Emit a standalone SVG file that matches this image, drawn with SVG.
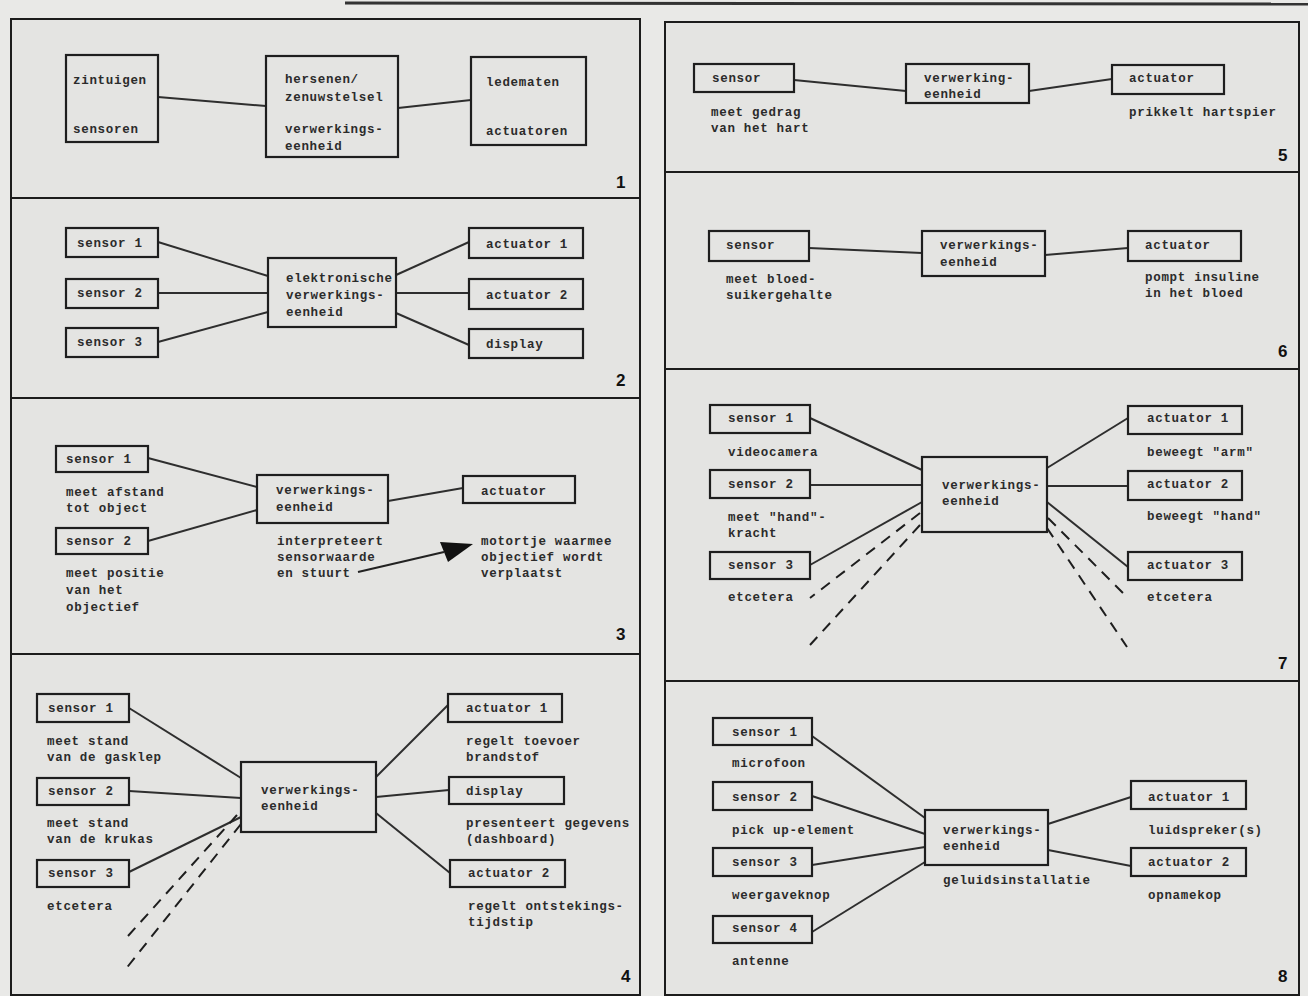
<svg xmlns="http://www.w3.org/2000/svg" width="1308" height="996" viewBox="0 0 1308 996">
<style>
.bg{fill:#e9e9e7}
.frame{fill:#e4e4e2;stroke:#1c1c1c;stroke-width:2}
.div{stroke:#1c1c1c;stroke-width:2}
.box{fill:#e4e4e2;stroke:#1e1e1e;stroke-width:2.2}
text{font-family:"Liberation Mono","DejaVu Sans Mono",monospace;font-size:12.5px;font-weight:bold;fill:#2b2b2b;letter-spacing:0.7px}
text.num{font-family:"Liberation Sans",Arial,sans-serif;font-size:17px;font-weight:bold;fill:#111;letter-spacing:0}
.c{stroke:#2e2e2e;stroke-width:2;fill:none}
.d{stroke:#1e1e1e;stroke-width:2;fill:none;stroke-dasharray:11 8}
</style>
<rect class="bg" x="0" y="0" width="1308" height="996"/>
<line x1="345" y1="3" x2="1308" y2="4" stroke="#333" stroke-width="3"/>

<g id="frames">
<rect class="frame" x="11" y="19" width="629" height="976"/>
<line class="div" x1="11" y1="198" x2="640" y2="198"/>
<line class="div" x1="11" y1="398" x2="640" y2="398"/>
<line class="div" x1="11" y1="654" x2="640" y2="654"/>
<rect class="frame" x="665" y="22" width="634" height="973"/>
<line class="div" x1="665" y1="172" x2="1299" y2="172"/>
<line class="div" x1="665" y1="369" x2="1299" y2="369"/>
<line class="div" x1="665" y1="681" x2="1299" y2="681"/>
<text class="num" x="616" y="188">1</text>
<text class="num" x="616" y="386">2</text>
<text class="num" x="616" y="640">3</text>
<text class="num" x="621" y="982">4</text>
<text class="num" x="1278" y="161">5</text>
<text class="num" x="1278" y="357">6</text>
<text class="num" x="1278" y="669">7</text>
<text class="num" x="1278" y="982">8</text>
</g>

<g id="connectors">
<!-- panel 1 -->
<line class="c" x1="158" y1="97" x2="266" y2="106"/>
<line class="c" x1="398" y1="108" x2="471" y2="100"/>
<!-- panel 2 -->
<line class="c" x1="158" y1="242" x2="268" y2="276"/>
<line class="c" x1="158" y1="293" x2="268" y2="293"/>
<line class="c" x1="158" y1="342" x2="268" y2="312"/>
<line class="c" x1="396" y1="275" x2="469" y2="242"/>
<line class="c" x1="396" y1="293" x2="469" y2="293"/>
<line class="c" x1="396" y1="313" x2="469" y2="345"/>
<!-- panel 3 -->
<line class="c" x1="148" y1="458" x2="257" y2="487"/>
<line class="c" x1="148" y1="541" x2="257" y2="510"/>
<line class="c" x1="388" y1="501" x2="463" y2="488"/>
<line x1="358" y1="572" x2="444" y2="552" stroke="#222" stroke-width="2.2"/>
<polygon points="473,544 440,542 448,562" fill="#111"/>
<!-- panel 4 -->
<line class="c" x1="129" y1="708" x2="241" y2="778"/>
<line class="c" x1="129" y1="791" x2="241" y2="798"/>
<line class="c" x1="129" y1="872" x2="241" y2="817"/>
<line class="d" x1="237" y1="815" x2="128" y2="936"/>
<line class="d" x1="241" y1="824" x2="125" y2="970"/>
<line class="c" x1="376" y1="777" x2="448" y2="705"/>
<line class="c" x1="376" y1="797" x2="449" y2="790"/>
<line class="c" x1="376" y1="813" x2="450" y2="873"/>
<!-- panel 5 -->
<line class="c" x1="794" y1="80" x2="906" y2="91"/>
<line class="c" x1="1029" y1="91" x2="1112" y2="79"/>
<!-- panel 6 -->
<line class="c" x1="809" y1="248" x2="922" y2="253"/>
<line class="c" x1="1045" y1="255" x2="1128" y2="248"/>
<!-- panel 7 -->
<line class="c" x1="810" y1="418" x2="922" y2="470"/>
<line class="c" x1="810" y1="485" x2="922" y2="485"/>
<line class="c" x1="810" y1="565" x2="922" y2="502"/>
<line class="d" x1="920" y1="513" x2="810" y2="598"/>
<line class="d" x1="920" y1="525" x2="810" y2="645"/>
<line class="c" x1="1047" y1="468" x2="1128" y2="418"/>
<line class="c" x1="1047" y1="486" x2="1128" y2="486"/>
<line class="c" x1="1047" y1="502" x2="1128" y2="567"/>
<line class="d" x1="1048" y1="518" x2="1128" y2="598"/>
<line class="d" x1="1047" y1="528" x2="1127" y2="647"/>
<!-- panel 8 -->
<line class="c" x1="812" y1="736" x2="925" y2="818"/>
<line class="c" x1="812" y1="796" x2="925" y2="834"/>
<line class="c" x1="812" y1="865" x2="925" y2="847"/>
<line class="c" x1="812" y1="932" x2="925" y2="862"/>
<line class="c" x1="1048" y1="824" x2="1131" y2="797"/>
<line class="c" x1="1048" y1="850" x2="1131" y2="866"/>
</g>

<!-- Panel 1 -->
<g id="p1-sensors"><rect class="box" x="66" y="55" width="92" height="87"/><text x="73" y="84">zintuigen</text><text x="73" y="133">sensoren</text></g>
<g id="p1-brain"><rect class="box" x="266" y="56" width="132" height="101"/><text x="285" y="83">hersenen/</text><text x="285" y="101">zenuwstelsel</text><text x="285" y="133">verwerkings-</text><text x="285" y="150">eenheid</text></g>
<g id="p1-limbs"><rect class="box" x="471" y="57" width="115" height="88"/><text x="486" y="86">ledematen</text><text x="486" y="135">actuatoren</text></g>

<!-- Panel 2 -->
<g id="p2-s1"><rect class="box" x="66" y="228" width="92" height="29"/><text x="77" y="247">sensor 1</text></g>
<g id="p2-s2"><rect class="box" x="66" y="279" width="92" height="29"/><text x="77" y="297">sensor 2</text></g>
<g id="p2-s3"><rect class="box" x="66" y="328" width="92" height="29"/><text x="77" y="346">sensor 3</text></g>
<g id="p2-proc"><rect class="box" x="268" y="258" width="128" height="69"/><text x="286" y="282">elektronische</text><text x="286" y="299">verwerkings-</text><text x="286" y="316">eenheid</text></g>
<g id="p2-a1"><rect class="box" x="469" y="228" width="114" height="30"/><text x="486" y="248">actuator 1</text></g>
<g id="p2-a2"><rect class="box" x="469" y="279" width="114" height="30"/><text x="486" y="299">actuator 2</text></g>
<g id="p2-disp"><rect class="box" x="469" y="329" width="114" height="29"/><text x="486" y="348">display</text></g>

<!-- Panel 3 -->
<g id="p3-s1"><rect class="box" x="56" y="446" width="92" height="26"/><text x="66" y="463">sensor 1</text><text x="66" y="496">meet afstand</text><text x="66" y="512">tot object</text></g>
<g id="p3-s2"><rect class="box" x="56" y="528" width="92" height="26"/><text x="66" y="545">sensor 2</text><text x="66" y="577">meet positie</text><text x="66" y="594">van het</text><text x="66" y="611">objectief</text></g>
<g id="p3-proc"><rect class="box" x="257" y="475" width="131" height="48"/><text x="276" y="494">verwerkings-</text><text x="276" y="511">eenheid</text><text x="277" y="545">interpreteert</text><text x="277" y="561">sensorwaarde</text><text x="277" y="577">en stuurt</text></g>
<g id="p3-act"><rect class="box" x="463" y="476" width="112" height="27"/><text x="481" y="495">actuator</text><text x="481" y="545">motortje waarmee</text><text x="481" y="561">objectief wordt</text><text x="481" y="577">verplaatst</text></g>

<!-- Panel 4 -->
<g id="p4-s1"><rect class="box" x="37" y="694" width="92" height="28"/><text x="48" y="712">sensor 1</text><text x="47" y="745">meet stand</text><text x="47" y="761">van de gasklep</text></g>
<g id="p4-s2"><rect class="box" x="37" y="778" width="92" height="27"/><text x="48" y="795">sensor 2</text><text x="47" y="827">meet stand</text><text x="47" y="843">van de krukas</text></g>
<g id="p4-s3"><rect class="box" x="37" y="860" width="92" height="27"/><text x="48" y="877">sensor 3</text><text x="47" y="910">etcetera</text></g>
<g id="p4-proc"><rect class="box" x="241" y="762" width="135" height="70"/><text x="261" y="794">verwerkings-</text><text x="261" y="810">eenheid</text></g>
<g id="p4-a1"><rect class="box" x="448" y="694" width="114" height="28"/><text x="466" y="712">actuator 1</text><text x="466" y="745">regelt toevoer</text><text x="466" y="761">brandstof</text></g>
<g id="p4-disp"><rect class="box" x="449" y="777" width="115" height="27"/><text x="466" y="795">display</text><text x="466" y="827">presenteert gegevens</text><text x="466" y="843">(dashboard)</text></g>
<g id="p4-a2"><rect class="box" x="450" y="860" width="115" height="27"/><text x="468" y="877">actuator 2</text><text x="468" y="910">regelt ontstekings-</text><text x="468" y="926">tijdstip</text></g>

<!-- Panel 5 -->
<g id="p5-s"><rect class="box" x="694" y="64" width="100" height="28"/><text x="712" y="82">sensor</text><text x="711" y="116">meet gedrag</text><text x="711" y="132">van het hart</text></g>
<g id="p5-proc"><rect class="box" x="906" y="64" width="123" height="39"/><text x="924" y="82">verwerking-</text><text x="924" y="98">eenheid</text></g>
<g id="p5-a"><rect class="box" x="1112" y="65" width="112" height="29"/><text x="1129" y="82">actuator</text><text x="1129" y="116">prikkelt hartspier</text></g>

<!-- Panel 6 -->
<g id="p6-s"><rect class="box" x="709" y="231" width="100" height="30"/><text x="726" y="249">sensor</text><text x="726" y="283">meet bloed-</text><text x="726" y="299">suikergehalte</text></g>
<g id="p6-proc"><rect class="box" x="922" y="231" width="123" height="45"/><text x="940" y="249">verwerkings-</text><text x="940" y="266">eenheid</text></g>
<g id="p6-a"><rect class="box" x="1128" y="231" width="113" height="30"/><text x="1145" y="249">actuator</text><text x="1145" y="281">pompt insuline</text><text x="1145" y="297">in het bloed</text></g>

<!-- Panel 7 -->
<g id="p7-s1"><rect class="box" x="710" y="405" width="100" height="28"/><text x="728" y="422">sensor 1</text><text x="728" y="456">videocamera</text></g>
<g id="p7-s2"><rect class="box" x="710" y="470" width="100" height="28"/><text x="728" y="488">sensor 2</text><text x="728" y="521">meet "hand"-</text><text x="728" y="537">kracht</text></g>
<g id="p7-s3"><rect class="box" x="710" y="552" width="100" height="27"/><text x="728" y="569">sensor 3</text><text x="728" y="601">etcetera</text></g>
<g id="p7-proc"><rect class="box" x="922" y="457" width="125" height="75"/><text x="942" y="489">verwerkings-</text><text x="942" y="505">eenheid</text></g>
<g id="p7-a1"><rect class="box" x="1128" y="406" width="114" height="28"/><text x="1147" y="422">actuator 1</text><text x="1147" y="456">beweegt "arm"</text></g>
<g id="p7-a2"><rect class="box" x="1128" y="471" width="114" height="29"/><text x="1147" y="488">actuator 2</text><text x="1147" y="520">beweegt "hand"</text></g>
<g id="p7-a3"><rect class="box" x="1128" y="552" width="114" height="28"/><text x="1147" y="569">actuator 3</text><text x="1147" y="601">etcetera</text></g>

<!-- Panel 8 -->
<g id="p8-s1"><rect class="box" x="713" y="718" width="99" height="27"/><text x="732" y="736">sensor 1</text><text x="732" y="767">microfoon</text></g>
<g id="p8-s2"><rect class="box" x="713" y="782" width="99" height="28"/><text x="732" y="801">sensor 2</text><text x="732" y="834">pick up-element</text></g>
<g id="p8-s3"><rect class="box" x="713" y="848" width="99" height="28"/><text x="732" y="866">sensor 3</text><text x="732" y="899">weergaveknop</text></g>
<g id="p8-s4"><rect class="box" x="713" y="916" width="99" height="27"/><text x="732" y="932">sensor 4</text><text x="732" y="965">antenne</text></g>
<g id="p8-proc"><rect class="box" x="925" y="810" width="123" height="55"/><text x="943" y="834">verwerkings-</text><text x="943" y="850">eenheid</text><text x="943" y="884">geluidsinstallatie</text></g>
<g id="p8-a1"><rect class="box" x="1131" y="781" width="115" height="28"/><text x="1148" y="801">actuator 1</text><text x="1148" y="834">luidspreker(s)</text></g>
<g id="p8-a2"><rect class="box" x="1131" y="848" width="115" height="28"/><text x="1148" y="866">actuator 2</text><text x="1148" y="899">opnamekop</text></g>
</svg>
